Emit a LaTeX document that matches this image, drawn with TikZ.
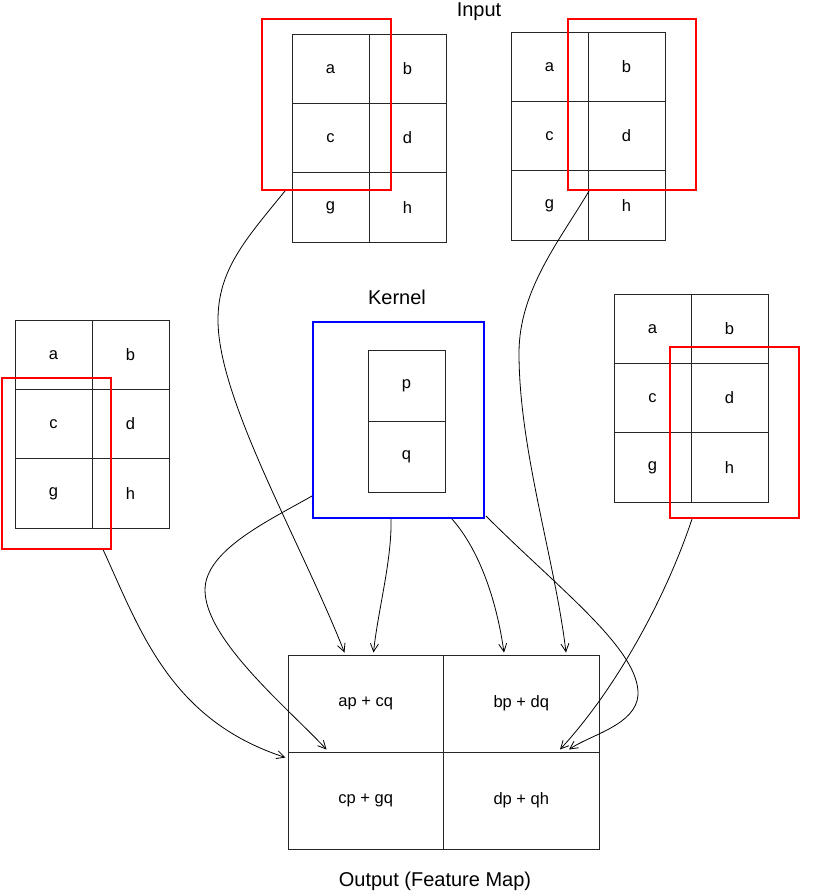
\documentclass[tikz,border=0pt]{standalone}
\usepackage{fontspec}
\setmainfont{Liberation Sans}
\usetikzlibrary{arrows.meta}

% one 2x3 block of input values, top-left corner at (#2,#3)
\newcommand\cellgrid[3]{%
  \node[cell] (#1a) at ({#2+38.5},{#3+34.67})  {a};
  \node[cell] (#1b) at ({#2+115.5},{#3+34.67}) {b};
  \node[cell] (#1c) at ({#2+38.5},{#3+104})    {c};
  \node[cell] (#1d) at ({#2+115.5},{#3+104})   {d};
  \node[cell] (#1g) at ({#2+38.5},{#3+173.33}) {g};
  \node[cell] (#1h) at ({#2+115.5},{#3+173.33}) {h};
}

\begin{document}
\begin{tikzpicture}[
  x=1pt, y=-1pt,
  cell/.style={draw=black!85, line width=1pt, minimum width=77pt,
    minimum height=69.33pt, inner sep=0pt, font=\fontsize{16.5}{18}\selectfont},
  window/.style={draw=red, line width=2pt, inner sep=0pt},
  kernelbox/.style={draw=blue, line width=2pt, inner sep=0pt},
  kcell/.style={cell, minimum height=71pt},
  outcell/.style={draw=black!85, line width=1pt, minimum width=155.5pt,
    minimum height=97pt, inner sep=0pt, font=\fontsize{16.5}{18}\selectfont},
  title/.style={anchor=base, inner sep=0pt, font=\fontsize{20}{22}\selectfont},
  flow/.style={line width=0.8pt, -{Straight Barb[length=8pt,width=8pt]}},
]
\useasboundingbox (0,0) rectangle (816,892);

% titles
\node[title] (tIn)  at (479,16)  {Input};
\node[title] (tKer) at (397,304) {Kernel};
\node[title] (tOut) at (435,886) {Output (Feature Map)};

% input blocks
\cellgrid{ga}{292}{34}
\cellgrid{gb}{511}{32}
\cellgrid{gc}{15}{320}
\cellgrid{gd}{614}{294}

% sliding windows
\node[window, minimum width=129pt, minimum height=171pt] (w1) at (326.5,104.5) {};
\node[window, minimum width=128pt, minimum height=171pt] (w2) at (632,104.5) {};
\node[window, minimum width=108.5pt, minimum height=171pt] (w3) at (56.5,463.5) {};
\node[window, minimum width=129pt, minimum height=171pt] (w4) at (734.5,432.5) {};

% kernel
\node[kernelbox, minimum width=171pt, minimum height=196pt] (kbox) at (398.5,420) {};
\node[kcell] (kp) at (406.5,385.5) {p};
\node[kcell] (kq) at (406.5,456.5) {q};

% output feature map
\node[outcell] (o1) at (365.75,703.5) {ap + cq};
\node[outcell] (o2) at (521.25,703.5) {bp + dq};
\node[outcell] (o3) at (365.75,800.5) {cp + gq};
\node[outcell] (o4) at (521.25,800.5) {dp + qh};

% contributions of the windows and the kernel
\draw[flow] ([xshift=24pt]w1.south west) .. controls (245,240) and (218,270) .. (218,320)
  .. controls (218,400) and (300,540) .. ([xshift=57pt,yshift=2pt]o1.north west);
\draw[flow] ([xshift=79pt]kbox.south west) .. controls (392,560) and (378,610) ..
  ([xshift=86pt,yshift=2pt]o1.north west);
\draw[flow] ([xshift=140pt]kbox.south west) .. controls (475,545) and (495,590) ..
  ([xshift=61pt,yshift=2pt]o2.north west);
\draw[flow] ([xshift=22pt]w2.south west) .. controls (560,240) and (519,290) .. (519,353)
  .. controls (519,450) and (555,560) .. ([xshift=123pt,yshift=2pt]o2.north west);
\draw[flow] ([yshift=23pt]kbox.south west) .. controls (270,520) and (205,550) .. (205,590)
  .. controls (205,640) and (290,710) .. ([xshift=39pt,yshift=2pt]o3.north west);
\draw[flow] ([xshift=1pt,yshift=3pt]kbox.south east) .. controls (560,590) and (640,650) .. (638,695)
  .. controls (636,725) and (590,735) .. ([xshift=126pt,yshift=2pt]o4.north west);
\draw[flow] ([xshift=102pt]w3.south west) .. controls (140,630) and (170,720) ..
  ([xshift=-2pt,yshift=-6pt]o3.north west);
\draw[flow] ([xshift=23pt]w4.south west) .. controls (665,600) and (615,690) ..
  ([xshift=117pt,yshift=2pt]o4.north west);
\end{tikzpicture}
\end{document}
